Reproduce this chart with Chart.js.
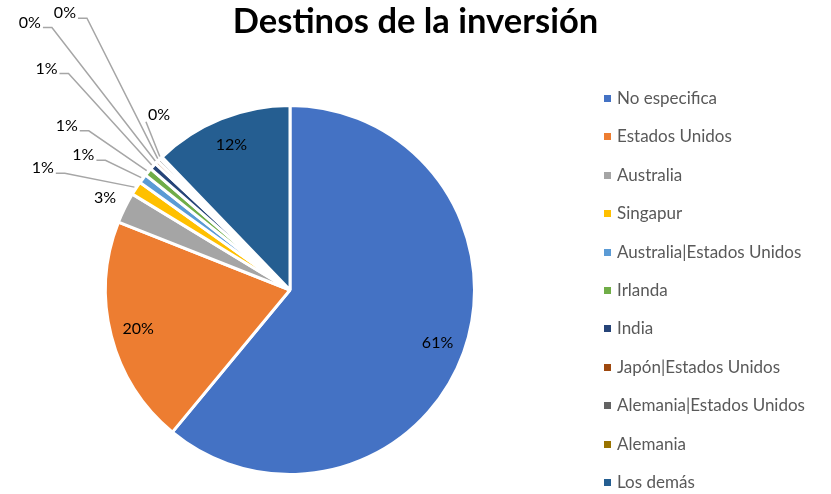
<!DOCTYPE html>
<html lang="es">
<head>
<meta charset="utf-8">
<title>Destinos de la inversión</title>
<script src="https://cdn.jsdelivr.net/npm/chart.js@4.4.1/dist/chart.umd.min.js"></script>
<style>
  html, body { margin: 0; padding: 0; background: #fff; }
  #wrap {
    position: relative;
    width: 831px;
    height: 494px;
    overflow: hidden;
    font-family: Lato, "Open Sans", sans-serif;
  }
  #pieChart { position: absolute; left: 0; top: 0; }
  #chart-title {
    position: absolute;
    left: 0;
    top: 0px;
    width: 831px;
    text-align: center;
    font-weight: 700;
    font-size: 34.5px;
    line-height: 40px;
    color: #000;
  }
  #legend {
    position: absolute;
    left: 604px;
    top: 88px;
    margin: 0;
    padding: 0;
    list-style: none;
  }
  #legend li {
    height: 38.4px;
    line-height: 20px;
    font-size: 17px;
    color: #595959;
    white-space: nowrap;
  }
  #legend .box {
    display: inline-block;
    width: 7px;
    height: 7px;
    margin-right: 6px;
    vertical-align: 2px;
  }
</style>
</head>
<body>
<div id="wrap">
  <canvas id="pieChart" width="831" height="494"></canvas>
  <div id="chart-title">Destinos de la inversión</div>
  <ul id="legend"></ul>
</div>
<script>
// Data
const categories = [
  "No especifica",
  "Estados Unidos",
  "Australia",
  "Singapur",
  "Australia|Estados Unidos",
  "Irlanda",
  "India",
  "Japón|Estados Unidos",
  "Alemania|Estados Unidos",
  "Alemania",
  "Los demás",
];
const shares = [61, 20, 2.7, 1.2, 0.8, 0.7, 0.6, 0.3, 0.3, 0.2, 12.2];
const sliceColors = [
  "#4472C4", "#ED7D31", "#A5A5A5", "#FFC000", "#5B9BD5", "#70AD47",
  "#264478", "#9E480E", "#636363", "#997300", "#255E91",
];

// Where each percentage goes (in pie radii from the centre)
// "in" = inside on the mid angle, "out" = just outside, "leader" = placed label + leader line
const labelPlacement = [
  { type: "in", r: 0.85 },
  { type: "in", r: 0.85 },
  { type: "out", r: 1.12 },
  { type: "leader", dx: -1.34, dy: -0.66 },
  { type: "leader", dx: -1.12, dy: -0.73 },
  { type: "leader", dx: -1.21, dy: -0.89 },
  { type: "leader", dx: -1.32, dy: -1.2 },
  { type: "leader", dx: -1.41, dy: -1.45 },
  { type: "leader", dx: -1.22, dy: -1.5 },
  { type: "leader", dx: -0.71, dy: -0.95 },
  { type: "in", r: 0.85 },
];

// Build the legend
const legendList = document.getElementById("legend");
categories.forEach((name, i) => {
  const li = document.createElement("li");
  const box = document.createElement("span");
  box.className = "box";
  box.style.background = sliceColors[i];
  li.appendChild(box);
  li.appendChild(document.createTextNode(name));
  legendList.appendChild(li);
});

// Percentage labels with leader lines (Excel style)
const pieLabels = {
  id: "pieLabels",
  afterDatasetsDraw(chart) {
    const ctx = chart.ctx;
    const meta = chart.getDatasetMeta(0);
    const data = chart.data.datasets[0].data;
    const total = data.reduce((a, b) => a + b, 0);
    ctx.save();
    ctx.font = "16px Lato, 'Open Sans', sans-serif";
    ctx.fillStyle = "#000";
    ctx.textAlign = "center";
    ctx.textBaseline = "middle";
    meta.data.forEach((arc, i) => {
      const p = arc.getProps(["x", "y", "startAngle", "endAngle", "outerRadius"], true);
      const mid = (p.startAngle + p.endAngle) / 2;
      const R = p.outerRadius;
      const text = Math.round((data[i] / total) * 100) + "%";
      const spot = labelPlacement[i];
      if (spot.type === "in" || spot.type === "out") {
        ctx.fillText(text, p.x + Math.cos(mid) * R * spot.r, p.y + Math.sin(mid) * R * spot.r);
        return;
      }
      const lx = p.x + spot.dx * R;
      const ly = p.y + spot.dy * R;
      const w = ctx.measureText(text).width;
      const ex = p.x + Math.cos(mid) * (R + 2);
      const ey = p.y + Math.sin(mid) * (R + 2);
      ctx.strokeStyle = "#A6A6A6";
      ctx.lineWidth = 1.5;
      ctx.beginPath();
      if (ex > lx + w / 2 + 4) {
        const sx = lx + w / 2 + 2;
        const sy = ly + 5;
        ctx.moveTo(sx, sy);
        ctx.lineTo(sx + 9, sy);
        ctx.lineTo(ex, ey);
      } else {
        ctx.moveTo(lx - w / 2 - 2, ly + 7);
        ctx.lineTo(ex, ey);
      }
      ctx.stroke();
      ctx.fillText(text, lx, ly);
    });
    ctx.restore();
  },
};

const ctxPie = document.getElementById("pieChart").getContext("2d");
new Chart(ctxPie, {
  type: "pie",
  data: {
    labels: categories,
    datasets: [
      {
        data: shares,
        backgroundColor: sliceColors,
        borderColor: "#fff",
        borderWidth: 3,
      },
    ],
  },
  options: {
    responsive: false,
    animation: false,
    layout: {
      padding: { left: 104, right: 355, top: 104, bottom: 18 },
    },
    plugins: {
      legend: { display: false },
      title: { display: false },
      tooltip: { enabled: false },
    },
  },
  plugins: [pieLabels],
});
</script>
</body>
</html>
